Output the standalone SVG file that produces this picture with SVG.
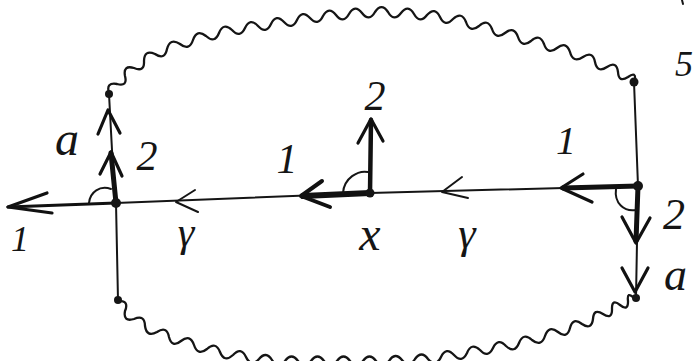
<svg xmlns="http://www.w3.org/2000/svg" width="697" height="361" viewBox="0 0 697 361">
<style>
.bg{fill:#ffffff}
.ln{fill:none;stroke:#151515;stroke-width:2;stroke-linecap:round;stroke-linejoin:round}
.wv{fill:none;stroke:#151515;stroke-width:2.3;stroke-linecap:round;stroke-linejoin:round}
.bd{fill:none;stroke:#111;stroke-width:5;stroke-linecap:round;stroke-linejoin:round}
.hd{fill:none;stroke:#111;stroke-width:3.2;stroke-linecap:round;stroke-linejoin:round}
.dot{fill:#151515}
.lb{font-family:"Liberation Serif","DejaVu Serif",serif;font-style:italic;fill:#151515;text-anchor:middle}
</style>
<rect class="bg" x="0" y="0" width="697" height="361"/>
<g id="connectors">
  <path class="wv" d="M109 93 Q105.7 82.1 117 84 Q127.9 86.9 125 76 Q122.9 64.7 134 68 Q144.6 72.5 144 61 Q144.2 49.2 155 54 Q164.8 60.5 167 49 Q170 37.4 180 44 Q189.3 51.4 193 40 Q196.7 28.6 206 36 Q214.7 44 219 33 Q223.3 22 232 30 Q240 38.7 245 28 Q250 17.3 258 26 Q266 34.7 271 24 Q276 13.3 284 22 Q292 30.7 297 20 Q302 9.3 310 18 Q318 26.7 323 16 Q328.8 5.7 336 15 Q343.2 24.3 349 14 Q354.8 3.7 362 13 Q369.2 22.3 375 12 Q381.5 2.2 388 12 Q393.8 22.3 401 13 Q408.2 3.7 414 14 Q419.8 24.3 427 15 Q435 6.3 440 17 Q445 27.7 453 19 Q461.7 11 466 22 Q469.7 33.4 479 26 Q487.7 18 492 29 Q495.7 40.4 505 33 Q514.3 25.6 518 37 Q521.7 48.4 531 41 Q539.7 33 544 44 Q547.7 55.4 557 48 Q566.3 40.6 570 52 Q573 63.6 583 57 Q592.8 50.5 595 62 Q597.2 73.5 607 67 Q616.6 60.5 618 72 Q618.7 83.2 628 77 Q636.4 70.5 635 81"/>
  <path class="wv" d="M118 301 Q129.5 300.4 125 311 Q122.9 322.3 134 319 Q144.8 314.2 145 326 Q146.7 337.7 157 332 Q166.8 325.5 169 337 Q171.9 348.4 181 341 Q190.3 333.6 194 345 Q197.7 356.4 207 349 Q215.7 341 220 352 Q224.3 363 233 355 Q241 346.3 246 357 Q251 367.7 259 359 Q266 350.5 272 360 Q278 369.5 285 361 Q291.5 352 298 361 Q304.5 370 311 361 Q317.5 352 324 361 Q330.5 370 337 361 Q343.5 352 350 361 Q356.5 370 363 361 Q369.5 352 376 361 Q382.5 370 389 361 Q395 351.5 402 360 Q409 368.5 415 359 Q421.5 350 428 359 Q435.9 367.7 441 357 Q446.1 346.3 454 355 Q461.9 363.7 467 353 Q471.3 342 480 350 Q487.9 358.7 493 348 Q498.1 337.3 506 346 Q514.7 354 519 343 Q523.3 332 532 340 Q541.3 347.4 545 336 Q548.7 324.6 558 332 Q567.1 339.4 570 328 Q572.9 316.6 582 324 Q591.6 330.5 593 319 Q593.7 307.8 603 314 Q612.3 320 612 309 Q611.7 298.3 620 305 Q628.3 311.7 628 301 Q626.7 290.8 634 298"/>
  <path class="ln" d="M116 203 L370 193 L638 186"/>
  <path class="ln" d="M109 94 L112 150 L116 203 L118 300"/>
  <path class="ln" d="M634 82 L638 186 L636 298"/>
  <path class="hd" d="M116 203 L8 207"/>
  <path class="hd" d="M47 193 L8 207 L52 213"/>
  <path class="bd" d="M116 203 L111 153"/>
  <path class="hd" d="M100 174 L111 152 L122 176"/>
  <path class="hd" d="M98 134 L108 110 L120 133"/>
  <path class="ln" d="M89 203 C90 192 100 185 111 189"/>
  <path class="ln" d="M195 190 L176 202 L198 212"/>
  <path class="bd" d="M370 193 L303 196" style="stroke-width:6"/>
  <path class="hd" d="M322 181 L301 196 L330 207" style="stroke-width:4"/>
  <path class="bd" d="M370 193 L371 120" style="stroke-width:4.5"/>
  <path class="hd" d="M358 143 L371 119 L383 141"/>
  <path class="ln" d="M343 193 C344 178 358 170 368 172"/>
  <path class="ln" d="M462 177 L442 192 L468 198"/>
  <path class="bd" d="M638 186 L563 188"/>
  <path class="hd" d="M583 174 L561 188 L592 202"/>
  <path class="bd" d="M638 186 L636 241"/>
  <path class="hd" d="M622 217 L636 243 L650 218"/>
  <path class="hd" d="M622 268 L635 292 L648 268"/>
  <path class="ln" d="M616 189 C614 203 624 212 636 210"/>
  <path class="ln" d="M682 0 L683 4"/>
</g>
<g id="node-left-vertex"><circle class="dot" cx="116" cy="203" r="5"/></g>
<g id="node-mid-vertex"><circle class="dot" cx="370" cy="193" r="4.5"/></g>
<g id="node-right-vertex"><circle class="dot" cx="638" cy="186" r="5"/></g>
<g id="node-top-left"><circle class="dot" cx="109" cy="94" r="4"/></g>
<g id="node-bottom-left"><circle class="dot" cx="118" cy="300" r="4"/></g>
<g id="node-top-right"><circle class="dot" cx="634" cy="82" r="4.5"/></g>
<g id="node-bottom-right"><circle class="dot" cx="636" cy="298" r="4"/></g>
<g id="labels">
  <text class="lb" x="67" y="155" font-size="48">a</text>
  <text class="lb" x="147" y="170" font-size="42">2</text>
  <text class="lb" x="20" y="251" font-size="36">1</text>
  <text class="lb" x="186" y="246" font-size="42">γ</text>
  <text class="lb" x="287" y="173" font-size="42">1</text>
  <text class="lb" x="375" y="110" font-size="42">2</text>
  <text class="lb" x="370" y="250" font-size="48">x</text>
  <text class="lb" x="467" y="248" font-size="44">γ</text>
  <text class="lb" x="566" y="154" font-size="40">1</text>
  <text class="lb" x="663" y="229" font-size="44" style="text-anchor:start">2</text>
  <text class="lb" x="664" y="290" font-size="46" style="text-anchor:start">a</text>
  <text class="lb" x="675" y="76" font-size="36" style="text-anchor:start">5</text>
</g>
</svg>
